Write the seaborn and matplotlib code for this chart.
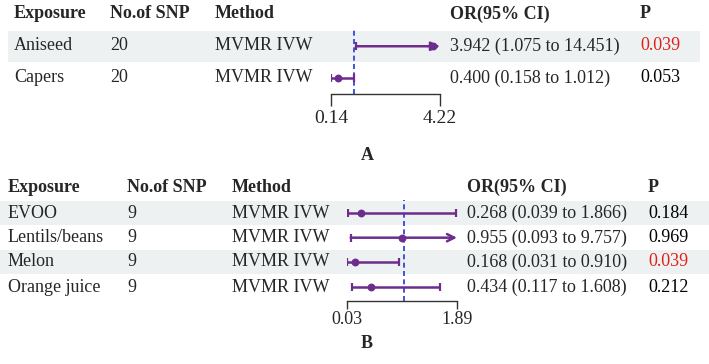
import numpy as np
import pandas as pd
import matplotlib
matplotlib.use('Agg')
import matplotlib.pyplot as plt
import seaborn as sns
from matplotlib.patches import Rectangle

# ------------------------------------------------------------
# 数据
# ------------------------------------------------------------
exp_a = ['Aniseed', 'Capers']
snp_a = [20, 20]
or_a = [3.942, 0.400]
lo_a = [1.075, 0.158]
hi_a = [14.451, 1.012]
p_a = [0.039, 0.053]
lim_a = [0.14, 4.22]

exp_b = ['EVOO', 'Lentils/beans', 'Melon', 'Orange juice']
snp_b = [9, 9, 9, 9]
or_b = [0.268, 0.955, 0.168, 0.434]
lo_b = [0.039, 0.093, 0.031, 0.117]
hi_b = [1.866, 9.757, 0.910, 1.608]
p_b = [0.184, 0.969, 0.039, 0.212]
lim_b = [0.03, 1.89]

method = 'MVMR IVW'
headers = ['Exposure', 'No.of SNP', 'Method', 'OR(95% CI)', 'P']

PURPLE = '#6E2C8C'
BLUE = '#2536D6'
BAND = '#EEF1F1'
W, H = 709, 364

sns.set_theme(style='white')
plt.rcParams['font.family'] = ['Liberation Serif', 'DejaVu Serif']
FS = 13

fig = plt.figure(figsize=(W / 100, H / 100), dpi=100)
bg = fig.add_axes([0, 0, 1, 1])
bg.set_xlim(0, W); bg.set_ylim(H, 0); bg.axis('off')


def panel(exp, snp, orv, lo, hi, pv, lim, cols, header_y, rows_y, row_h,
          band_x, ax_x, ax_y, title_xy, title, arrow, tick_len, tick_fs, tick_pad):
    # 表头
    for x, h in zip(cols, headers):
        bg.text(x, header_y, h, fontsize=FS, fontweight='bold', va='center')
    # 行背景 + 文本
    for i, y in enumerate(rows_y):
        if i % 2 == 0:
            bg.add_patch(Rectangle((band_x[0], y - row_h / 2), band_x[1] - band_x[0], row_h,
                                   color=BAND, lw=0, zorder=0))
        bg.text(cols[0], y, exp[i], fontsize=FS, va='center')
        bg.text(cols[1], y, str(snp[i]), fontsize=FS, va='center')
        bg.text(cols[2], y, method, fontsize=FS, va='center')
        bg.text(cols[3], y, f'{orv[i]:.3f} ({lo[i]:.3f} to {hi[i]:.3f})', fontsize=FS, va='center')
        bg.text(cols[4], y, f'{pv[i]:.3f}', fontsize=FS, va='center',
                color='#E0201B' if pv[i] < 0.05 else 'black')
    bg.text(title_xy[0], title_xy[1], title, fontsize=FS, fontweight='bold', va='center')

    # 森林图
    n = len(exp)
    top_pad = (rows_y[0] - ax_y[0]) / row_h
    bot_pad = (ax_y[1] - rows_y[-1]) / row_h
    ax = fig.add_axes([ax_x[0] / W, 1 - ax_y[1] / H, (ax_x[1] - ax_x[0]) / W, (ax_y[1] - ax_y[0]) / H])
    ax.patch.set_alpha(0)
    ax.set_xlim(lim)
    ax.set_ylim(n - 1 + bot_pad, -top_pad)
    ax.axvline(1, color=BLUE, lw=1.2, ls=(0, (3, 2)), zorder=1)
    for i in range(n):
        l, h_ = max(lo[i], lim[0]), min(hi[i], lim[1])
        if hi[i] > lim[1]:
            ax.annotate('', xy=(lim[1], i), xytext=(l, i), annotation_clip=False,
                        arrowprops=dict(arrowstyle=arrow, color=PURPLE, lw=1.8,
                                        shrinkA=0, shrinkB=0, mutation_scale=13))
        else:
            ax.plot([l, h_], [i, i], color=PURPLE, lw=1.8, solid_capstyle='butt', zorder=2)
            ax.plot([h_], [i], marker='|', color=PURPLE, ms=6, mew=1.6, zorder=2)
        ax.plot([l], [i], marker='|', color=PURPLE, ms=6, mew=1.6, zorder=2)
    df = pd.DataFrame({'or': orv, 'row': range(n)})
    sns.scatterplot(data=df, x='or', y='row', color=PURPLE, s=32, edgecolor=PURPLE,
                    linewidth=0, ax=ax, zorder=3, clip_on=False)
    for s in ['top', 'left', 'right']:
        ax.spines[s].set_visible(False)
    ax.spines['bottom'].set_color('#333333')
    ax.spines['bottom'].set_linewidth(1)
    ax.set_yticks([])
    ax.set_xticks(lim)
    ax.set_xticklabels([f'{v:.2f}' for v in lim], fontsize=tick_fs)
    ax.tick_params(axis='x', direction='out', length=tick_len, width=1, color='#333333',
                   pad=tick_pad, bottom=True)
    ax.set_xlabel(''); ax.set_ylabel('')


panel(exp_a, snp_a, or_a, lo_a, hi_a, p_a, lim_a,
      cols=[14, 110, 215, 450, 640], header_y=14, rows_y=[46, 78], row_h=31,
      band_x=(8, 700), ax_x=(331, 440), ax_y=(30, 94), title_xy=(361, 155), title='A',
      arrow='-|>', tick_len=8.5, tick_fs=14, tick_pad=3)

panel(exp_b, snp_b, or_b, lo_b, hi_b, p_b, lim_b,
      cols=[8, 127, 232, 467, 648], header_y=187, rows_y=[213, 238, 262, 287], row_h=24.5,
      band_x=(0, 709), ax_x=(347, 457), ax_y=(200, 301), title_xy=(361, 343), title='B',
      arrow='->', tick_len=5.5, tick_fs=13, tick_pad=2)

fig.savefig('out.png', dpi=100)
